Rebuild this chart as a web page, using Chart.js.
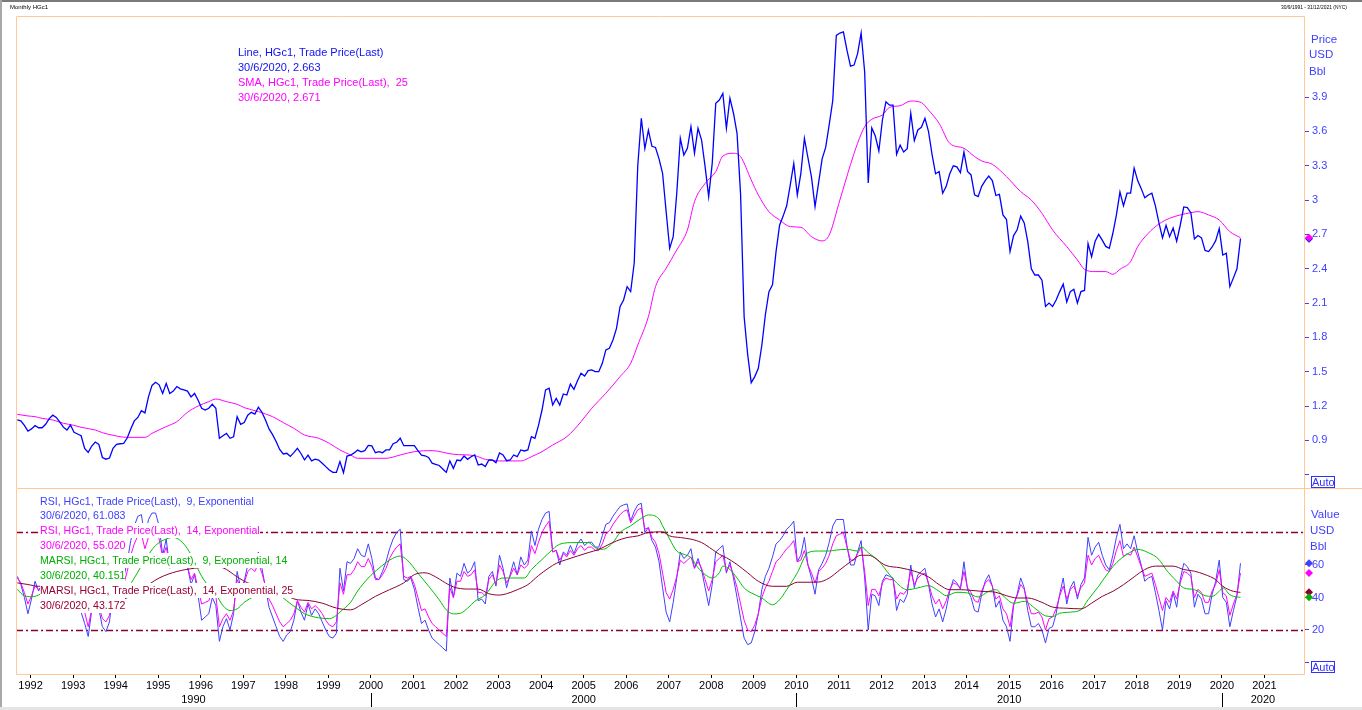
<!DOCTYPE html>
<html><head><meta charset="utf-8">
<script src="https://cdn.jsdelivr.net/npm/chart.js"></script>
<style>
html,body{margin:0;padding:0;background:#fff;}
body{width:1362px;height:710px;position:relative;overflow:hidden;font-family:"Liberation Sans",Arial,sans-serif;}
.bar{position:absolute;}
canvas{position:absolute;left:0;}
#cTop{top:0;}
#cBot{top:489px;}
.hdr{position:absolute;color:#000;white-space:nowrap;}
.lg{position:absolute;white-space:nowrap;}
.lg span{display:inline-block;background:#fff;}
.ax{position:absolute;font-size:11.5px;color:#4040ff;line-height:14px;white-space:nowrap;}
.auto{position:absolute;border:1px solid #3030ff;color:#3030ff;font-size:11px;line-height:10px;height:10px;width:22px;text-align:center;background:#fff;}
</style></head>
<body>
<canvas id="cTop" width="1362" height="489"></canvas>
<canvas id="cBot" width="1362" height="221"></canvas>

<div class="bar" style="left:0;top:0;width:1362px;height:2px;background:#7a7a7a"></div>
<div class="bar" style="left:0;top:0;width:2px;height:710px;background:#a8a8a8"></div>
<div class="bar" style="left:0;top:707px;width:1362px;height:3px;background:#e4e4e4"></div>

<div class="hdr" style="left:10px;top:3px;font-size:6px;line-height:8px;">Monthly HGc1</div>
<div class="hdr" style="left:1281px;top:3px;font-size:6px;line-height:8px;transform:scaleX(0.82);transform-origin:left top;">30/9/1991 - 31/12/2021 (NYC)</div>

<div class="lg" style="left:238px;top:45px;font-size:11px;line-height:15px;">
<div style="color:#1010f0">Line, HGc1, Trade Price(Last)</div>
<div style="color:#1010f0">30/6/2020, 2.663</div>
<div style="color:#ff00ff">SMA, HGc1, Trade Price(Last),&nbsp; 25</div>
<div style="color:#ff00ff">30/6/2020, 2.671</div>
</div>

<div class="lg" style="left:40px;top:493.5px;font-size:10.6px;line-height:14.9px;">
<div><span style="color:#4040ff">RSI, HGc1, Trade Price(Last),&nbsp; 9, Exponential</span></div>
<div><span style="color:#4040ff">30/6/2020, 61.083</span></div>
<div><span style="color:#ff00ff">RSI, HGc1, Trade Price(Last),&nbsp; 14, Exponential</span></div>
<div><span style="color:#ff00ff">30/6/2020, 55.020</span></div>
<div><span style="color:#00b000">MARSI, HGc1, Trade Price(Last),&nbsp; 9, Exponential, 14</span></div>
<div><span style="color:#00b000">30/6/2020, 40.151</span></div>
<div><span style="color:#990033">MARSI, HGc1, Trade Price(Last),&nbsp; 14, Exponential, 25</span></div>
<div><span style="color:#990033">30/6/2020, 43.172</span></div>
</div>

<div class="ax" style="left:1311px;top:32px;">Price</div>
<div class="ax" style="left:1309px;top:47px;">USD</div>
<div class="ax" style="left:1309px;top:64px;">Bbl</div>
<div class="ax" style="left:1311px;top:507px;">Value</div>
<div class="ax" style="left:1310px;top:523px;">USD</div>
<div class="ax" style="left:1310px;top:539px;">Bbl</div>
<div class="auto" style="left:1311px;top:476px;">Auto</div>
<div class="auto" style="left:1311px;top:661px;">Auto</div>

<script>
// ---------------- DATA ----------------
const startYear = 1991, startMonth = 9;   // first monthly category: Sep 1991 (last: Jun 2020)

const priceHGc1 = [
 1.078,1.07,1.03,0.98,
 1.00,1.03,1.01,1.01,1.04,1.09,1.12,1.10,1.06,1.015,0.99,1.034,
 0.97,0.955,0.94,0.83,0.795,0.85,0.885,0.865,0.75,0.735,0.745,0.83,
 0.865,0.87,0.874,0.92,1.00,1.07,1.10,1.159,1.14,1.28,1.38,1.407,
 1.385,1.31,1.398,1.31,1.33,1.37,1.35,1.34,1.33,1.28,1.31,1.25,
 1.18,1.165,1.18,1.215,1.18,0.918,0.94,0.96,0.918,0.93,1.107,1.04,
 1.055,1.12,1.145,1.13,1.19,1.145,1.078,1.00,0.95,0.89,0.82,0.781,
 0.787,0.76,0.792,0.83,0.785,0.73,0.77,0.72,0.735,0.728,0.70,0.67,
 0.64,0.62,0.62,0.714,0.617,0.763,0.77,0.79,0.815,0.80,0.81,0.855,
 0.851,0.792,0.801,0.792,0.816,0.816,0.87,0.883,0.918,0.853,0.853,0.853,
 0.853,0.81,0.77,0.765,0.75,0.70,0.69,0.68,0.65,0.62,0.72,0.655,
 0.728,0.722,0.763,0.734,0.757,0.772,0.684,0.693,0.67,0.728,0.728,0.705,
 0.79,0.772,0.722,0.728,0.772,0.757,0.816,0.807,0.816,0.932,0.918,1.03,
 1.165,1.34,1.355,1.209,1.267,1.209,1.305,1.296,1.392,1.346,1.421,1.486,
 1.462,1.509,1.515,1.50,1.50,1.573,1.69,1.704,1.777,1.879,2.068,2.127,
 2.243,2.20,2.45,3.30,3.715,3.45,3.61,3.47,3.46,3.36,3.234,2.90,
 2.578,2.68,3.06,3.54,3.394,3.453,3.642,3.41,3.627,3.525,3.29,3.03,
 3.321,3.846,3.875,3.933,3.627,3.89,3.759,3.584,3.05,1.98,1.65,1.404,
 1.457,1.53,1.733,2.0,2.20,2.26,2.55,2.78,2.86,2.95,3.13,3.32,
 3.045,3.234,3.54,3.37,3.20,2.943,3.15,3.36,3.46,3.66,3.87,4.44,
 4.46,4.47,4.31,4.17,4.18,4.28,4.46,4.12,3.15,3.63,3.56,3.43,
 3.70,3.86,3.83,3.83,3.40,3.48,3.42,3.45,3.76,3.52,3.613,3.636,
 3.715,3.60,3.40,3.23,3.25,3.06,3.12,3.23,3.30,3.29,3.24,3.42,
 3.25,3.22,3.045,3.03,3.12,3.17,3.21,3.17,3.04,3.05,2.87,2.83,
 2.55,2.69,2.74,2.86,2.80,2.637,2.40,2.345,2.345,2.30,2.07,2.10,
 2.07,2.127,2.20,2.265,2.11,2.20,2.22,2.10,2.20,2.21,2.62,2.505,
 2.64,2.70,2.65,2.595,2.578,2.71,2.87,3.07,2.95,3.06,3.06,3.28,
 3.17,3.10,3.02,3.045,3.06,2.95,2.80,2.67,2.78,2.68,2.755,2.64,
 2.78,2.94,2.935,2.89,2.66,2.69,2.67,2.56,2.55,2.59,2.645,2.75,
 2.52,2.535,2.243,2.32,2.40,2.663
];

// SMA 25 (read at selected months, index = months after Sep 1991)
const sma25At = [0,3,5,7,10,13,16,18,22,24,27,31,36,38,42,45,48,51,54,56,59,62,64,68,72,75,78,81,85,88,91,94,96,104,108,112,117,123,129,132,136,142,145,148,151,155,159,162,166,170,173,175,178,180,183,186,189,191,194,197,199,202,204,207,209,212,215,218,221,224,227,229,232,235,237,239,241,244,246,249,252,255,257,260,263,267,270,272,275,279,283,286,289,292,296,299,301,304,307,309,311,314,316,319,322,325,328,331,333,336,339,342,345];
const sma25 = [1.127,1.113,1.107,1.092,1.078,1.049,1.031,1.014,0.99,0.967,0.944,0.926,0.926,0.961,1.02,1.063,1.145,1.20,1.238,1.261,1.238,1.215,1.186,1.151,1.107,1.055,1.005,0.947,0.918,0.874,0.816,0.772,0.743,0.743,0.772,0.801,0.81,0.778,0.766,0.734,0.72,0.72,0.757,0.801,0.859,0.932,1.063,1.18,1.311,1.457,1.573,1.733,1.981,2.243,2.404,2.564,2.739,2.986,3.146,3.249,3.385,3.409,3.38,3.176,3.045,2.899,2.826,2.768,2.762,2.68,2.643,2.695,3.0,3.31,3.496,3.642,3.706,3.744,3.81,3.825,3.866,3.852,3.787,3.671,3.496,3.453,3.38,3.342,3.313,3.205,3.074,3.0,2.884,2.739,2.593,2.477,2.395,2.375,2.375,2.351,2.395,2.462,2.593,2.71,2.791,2.841,2.87,2.89,2.899,2.87,2.826,2.724,2.671];

const rsi9 = [
 53,48,40,30,
 39,50,44,48,56,63,66,57,50,38,31,45,
 33,32,31,24,16,32,38,33,22,19,25,44,
 50,51,52,62,75,84,90,91,77,88,92,92,
 84,66,76,58,61,67,63,61,59,48,54,41,
 26,28,30,40,35,13,22,27,20,30,56,46,
 50,60,63,60,68,58,46,34,28,22,16,13,
 17,19,26,38,31,26,36,29,33,30,25,20,
 16,15,18,58,44,62,61,64,70,66,65,73,
 64,52,51,56,62,70,76,80,82,51,50,52,
 45,34,24,26,20,15,13,11,9,7,52,40,
 55,53,61,55,57,62,38,39,36,53,56,47,
 66,58,46,54,62,54,65,60,63,81,72,82,
 88,92,93,68,69,60,68,66,72,67,73,76,
 72,74,74,71,71,78,85,86,90,93,96,97,
 97.6,87,93,97,98,80,83,75,71,62,46,31,
 25,37,52,68,64,66,70,58,64,57,46,35,
 48,68,70,72,55,62,52,40,27,15,11,12,
 19,30,45,53,58,65,73,75,78,82,84,87,
 62,66,77,60,52,42,57,61,66,74,84,88,
 88,88,72,60,60,68,75,52,20,42,41,35,
 50,54,53,52,32,39,37,42,60,46,54,56,
 58,48,36,28,33,25,33,44,51,49,45,62,
 45,40,32,31,42,50,54,47,34,38,26,22,
 13,35,42,52,46,32,22,22,24,20,12,21,
 22,30,42,52,36,46,50,39,48,52,77,66,
 71,74,66,60,57,66,77,85,70,73,70,78,
 68,60,50,52,53,43,32,20,38,33,43,34,
 51,61,59,55,34,42,39,30,30,42,50,63,
 40,37,22,32,41,61.083
];

const rsi14 = [
 52,49,43,36,
 41,47,45,47,52,57,60,55,51,43,38,46,
 39,38,37,31,22,33,38,35,27,25,29,42,
 46,47,48,56,66,73,78,79,70,77,81,81,
 76,65,71,60,62,65,62,61,59,51,55,45,
 36,37,38,44,41,22,27,30,26,32,51,46,
 49,56,58,56,61,55,47,39,35,30,25,22,
 24,26,30,38,34,31,37,33,35,33,30,26,
 23,22,25,49,42,54,54,57,62,59,59,64,
 59,51,51,54,58,64,68,71,73,53,52,53,
 48,40,32,33,28,24,22,20,18,16,46,40,
 50,50,56,53,54,57,43,43,41,51,54,48,
 60,56,49,53,58,54,60,58,60,72,67,74,
 80,84,87,68,69,63,67,65,69,66,70,72,
 69,71,71,69,69,73,79,81,85,88,91,93,
 94,86,90,94,95,82,83,77,74,67,55,43,
 39,45,53,63,61,63,65,58,62,58,51,44,
 51,62,64,66,56,60,54,46,36,26,20,19,
 23,30,40,46,50,56,62,64,67,70,72,75,
 62,63,69,60,55,49,56,58,61,66,73,78,
 79,80,71,63,63,67,71,56,35,45,45,41,
 49,52,51,51,39,43,42,45,56,48,52,54,
 55,49,41,36,39,33,38,45,49,48,46,56,
 46,43,38,37,44,49,51,47,39,41,33,30,
 22,36,41,48,45,37,30,30,31,28,20,27,
 28,33,41,47,39,45,47,41,46,49,66,60,
 64,66,61,57,56,61,69,75,65,67,66,71,
 65,59,53,54,55,48,40,32,40,37,44,39,
 49,56,55,53,40,45,43,37,37,44,48,57,
 43,41,29,36,42,55.02
];

const marsi9At = [0,2,4,6,9,12,15,18,21,24,27,30,33,36,39,42,44,46,48,50,52,54,56,58,60,62,64,67,70,73,76,79,81,85,88,90,91,94,96,99,102,105,108,110,113,116,119,121,123,125,127,129,132,135,137,140,143,145,148,151,153,157,161,163,165,168,170,173,176,178,181,182,184,186,188,190,192,194,196,198,199,201,203,205,207,210,213,215,217,220,223,226,229,231,234,237,238,240,243,246,248,251,254,257,260,262,265,268,271,274,276,278,281,284,287,290,292,294,297,300,302,305,308,310,313,316,319,322,324,327,329,332,335,337,339,340,342,344,345];
const marsi9 = [45,41,40.5,41.5,46,50,47,42,37,33,35,42,52,63,72,76,77,75,70,62,53,47,42,35,32,33,37,41,45,43,38,33,30,27.5,27,29,31,37,44,52,58,63,65.5,63,55,47,38.6,32.4,29.9,30.3,33.4,37.6,41.7,50,52,52,52,57.2,63.4,69.6,72.8,73.8,73.8,70.7,69.6,73.8,80,84.1,88.7,90.8,88.3,84.1,75.9,68.6,66.6,64.5,58.3,54.1,52,55.2,59.3,57.2,52,45.9,42.8,39.7,35.5,38.6,44.8,55.2,67.6,68.6,68.6,69.2,69.6,68.6,71.2,67.6,62.4,54.1,49,44.8,45.9,47.3,43.8,41.1,43.2,42.8,40.3,43.8,44.8,41.1,36.5,37.6,33.4,28.7,28.3,30.3,31,32.4,38.6,46.9,56.2,61.4,66.6,69.6,67.6,63.4,57.2,50,45.9,44.8,41.1,40.7,43.8,45.9,41.7,40.3,40.151];

const marsi25At = [0,3,6,10,15,20,25,30,35,40,45,50,55,58,62,65,70,75,79,82,86,90,94,97,101,105,109,112,115,118,120,123,127,130,133,136,138,141,144,147,150,152,155,158,161,164,167,169,172,175,178,182,184,187,190,193,196,198,200,203,206,209,213,217,220,223,226,229,232,235,238,240,245,249,253,257,260,263,266,269,272,276,279,282,285,289,292,296,300,303,306,309,312,315,318,321,324,326,329,332,335,338,340,343,345];
const marsi25 = [49,48,46.9,47,46,42,38,39,45,52,56,58,59,58.3,52.7,49,46,42,38.6,38.2,36.5,33.5,32.4,35.5,40.7,44.8,49,54.1,55.2,52.7,50,46.5,45.2,45.2,42.3,41.5,42.3,44.8,47.9,53.5,58.3,61,63.4,65.5,67.6,69.6,72.8,74.8,76.9,77.9,80,80.4,77.9,76.9,75.9,73.8,69.6,66.6,64.5,60.3,55.2,50,46.9,46.9,49.4,49.4,49.5,52,57,62,66,66,59.7,58.3,56.2,52.7,47.9,44.8,44.8,44.4,43.8,43.2,41.1,39.7,39.7,37,34.1,33.4,33,36.5,40.7,43.8,47.9,52.7,57.2,59.3,59.3,59.3,57.2,56.2,54.1,51,46.9,43.8,43.172];

const priceTicks = [0.6,0.9,1.2,1.5,1.8,2.1,2.4,2.7,3,3.3,3.6,3.9];
const valueTicks = [0,20,40,60];
const rsiLevels = [80,20];
const yearTicks = [1992,1993,1994,1995,1996,1997,1998,1999,2000,2001,2002,2003,2004,2005,2006,2007,2008,2009,2010,2011,2012,2013,2014,2015,2016,2017,2018,2019,2020,2021];
const decadeStarts = [1990,2000,2010,2020];

// ---------------- BUILD ----------------
const monthX = i => startYear + (startMonth - 1 + i + 0.25) / 12;
const series = vals => vals.map((v, i) => ({x: monthX(i), y: v}));
const sparse = (at, vals) => at.map((i, k) => ({x: monthX(i), y: vals[k]}));

const X_MIN = 1991.657, X_MAX = 2021.93;
const FONT = '"Liberation Sans", Arial, sans-serif';
Chart.defaults.font.family = FONT;
const FRAME = '#ffc896';

const noPad = s => { s.paddingTop = 0; s.paddingBottom = 0; s.paddingLeft = 0; s.paddingRight = 0; };

const framePlugin = {
  id: 'frame',
  afterDraw(chart, args, opts) {
    const {ctx, chartArea: a} = chart;
    ctx.save();
    ctx.strokeStyle = FRAME; ctx.lineWidth = 1;
    ctx.beginPath();
    const L = Math.round(a.left) + 0.5, R = Math.round(a.right) + 0.5;
    if (opts.part === 'top') {
      const T = Math.round(a.top) + 0.5, B = Math.round(a.bottom) - 0.5;
      ctx.moveTo(L, B); ctx.lineTo(L, T); ctx.lineTo(R, T); ctx.lineTo(R, B);
      ctx.moveTo(L, B); ctx.lineTo(chart.width, B);
    } else {
      const B = Math.round(a.bottom) + 0.5;
      ctx.moveTo(L, a.top); ctx.lineTo(L, B); ctx.lineTo(R, B); ctx.lineTo(R, a.top);
    }
    ctx.stroke();
    ctx.restore();
  }
};

const levelPlugin = {
  id: 'levels',
  beforeDatasetsDraw(chart, args, opts) {
    if (!opts.levels) return;
    const {ctx, chartArea: a, scales: {y}} = chart;
    ctx.save();
    ctx.strokeStyle = '#8b0034'; ctx.lineWidth = 1.4;
    ctx.setLineDash([7, 3, 2, 3]);
    opts.levels.forEach(v => {
      const py = Math.round(y.getPixelForValue(v)) + 0.5;
      ctx.beginPath(); ctx.moveTo(a.left, py); ctx.lineTo(a.right, py); ctx.stroke();
    });
    ctx.restore();
  }
};

const marksPlugin = {
  id: 'marks',
  afterDraw(chart, args, opts) {
    const {ctx, chartArea: a, scales: {y}} = chart;
    ctx.save();
    (opts.list || []).forEach(m => {
      const d = chart.data.datasets[m.ds].data;
      const v = d[d.length - 1].y;
      const cx = a.right + 5, cy = y.getPixelForValue(v), r = 4;
      ctx.fillStyle = m.color;
      ctx.beginPath();
      ctx.moveTo(cx, cy - r); ctx.lineTo(cx + r, cy); ctx.lineTo(cx, cy + r); ctx.lineTo(cx - r, cy);
      ctx.closePath(); ctx.fill();
    });
    ctx.restore();
  }
};

const decadePlugin = {
  id: 'decades',
  afterDraw(chart) {
    const {ctx, chartArea: a, scales: {x}} = chart;
    ctx.save();
    ctx.fillStyle = '#000'; ctx.strokeStyle = '#000'; ctx.lineWidth = 1;
    ctx.font = '11px ' + FONT; ctx.textAlign = 'center'; ctx.textBaseline = 'middle';
    decadeStarts.forEach(d => {
      const p0 = x.getPixelForValue(d), p1 = x.getPixelForValue(d + 10);
      const x0 = Math.max(p0, a.left), x1 = Math.min(p1, a.right);
      if (x1 <= x0) return;
      ctx.fillText(String(d), (x0 + x1) / 2, a.bottom + 26);
      if (p0 > a.left) {
        const px = Math.round(p0) + 0.5;
        ctx.beginPath(); ctx.moveTo(px, a.bottom + 19); ctx.lineTo(px, a.bottom + 34); ctx.stroke();
      }
    });
    ctx.restore();
  }
};

const baseOpts = {
  responsive: false, animation: false, devicePixelRatio: 1,
  events: [],
  elements: { point: { radius: 0 }, line: { borderWidth: 1 } }
};

new Chart(document.getElementById('cTop'), {
  type: 'line',
  data: { datasets: [
    { data: series(priceHGc1), borderColor: '#0000ff', borderWidth: 1.3, tension: 0, order: 1 },
    { data: sparse(sma25At, sma25), borderColor: '#ff00ff', borderWidth: 1, cubicInterpolationMode: 'monotone', order: 2 }
  ]},
  options: Object.assign({}, baseOpts, {
    layout: { padding: { left: 16, top: 16, right: 0, bottom: 0 } },
    plugins: {
      legend: { display: false }, tooltip: { enabled: false },
      frame: { part: 'top' },
      marks: { list: [{ ds: 0, color: '#0000ff' }, { ds: 1, color: '#ff00ff' }] }
    },
    scales: {
      x: { type: 'linear', display: false, min: X_MIN, max: X_MAX },
      y: {
        type: 'linear', position: 'right', min: 0.4746, max: 4.609,
        afterFit: s => { s.width = 58; noPad(s); },
        afterBuildTicks: s => { s.ticks = priceTicks.map(v => ({ value: v })); },
        ticks: { callback: v => (v === 0.6 ? '' : String(v)), color: '#4040ff', font: { size: 11 }, padding: 3 },
        grid: { drawOnChartArea: false, drawTicks: true, tickLength: 5, color: '#4040ff' },
        border: { display: false }
      }
    }
  }),
  plugins: [framePlugin, marksPlugin]
});

new Chart(document.getElementById('cBot'), {
  type: 'line',
  data: { datasets: [
    { data: series(rsi9), borderColor: '#4040ff', borderWidth: 1, tension: 0, order: 4 },
    { data: series(rsi14), borderColor: '#ff00ff', borderWidth: 1, tension: 0, order: 3 },
    { data: sparse(marsi9At, marsi9), borderColor: '#00c000', borderWidth: 1, cubicInterpolationMode: 'monotone', order: 2 },
    { data: sparse(marsi25At, marsi25), borderColor: '#8b0034', borderWidth: 1, cubicInterpolationMode: 'monotone', order: 1 }
  ]},
  options: Object.assign({}, baseOpts, {
    layout: { padding: { left: 16, top: 0, right: 0, bottom: 0 } },
    plugins: {
      legend: { display: false }, tooltip: { enabled: false },
      frame: { part: 'bottom' },
      levels: { levels: rsiLevels },
      marks: { list: [{ ds: 0, color: '#4040ff' }, { ds: 1, color: '#ff00ff' }, { ds: 3, color: '#8b0034' }, { ds: 2, color: '#00b000' }] }
    },
    scales: {
      x: {
        type: 'linear', position: 'bottom', min: X_MIN, max: X_MAX,
        afterFit: s => { s.height = 36; noPad(s); },
        afterBuildTicks: s => { s.ticks = yearTicks.map(v => ({ value: v })); },
        ticks: { autoSkip: false, maxRotation: 0, minRotation: 0, callback: v => String(v), color: '#000', font: { size: 11 }, padding: 1 },
        grid: { drawOnChartArea: false, drawTicks: true, tickLength: 4, color: '#000' },
        border: { display: false }
      },
      y: {
        type: 'linear', position: 'right', min: -7.08, max: 106.77,
        afterFit: s => { s.width = 58; noPad(s); },
        afterBuildTicks: s => { s.ticks = valueTicks.map(v => ({ value: v })); },
        ticks: { callback: v => (v === 0 ? '' : String(v)), color: '#4040ff', font: { size: 11 }, padding: 3 },
        grid: { drawOnChartArea: false, drawTicks: true, tickLength: 5, color: '#4040ff' },
        border: { display: false }
      }
    }
  }),
  plugins: [framePlugin, levelPlugin, marksPlugin, decadePlugin]
});
</script>
</body></html>
